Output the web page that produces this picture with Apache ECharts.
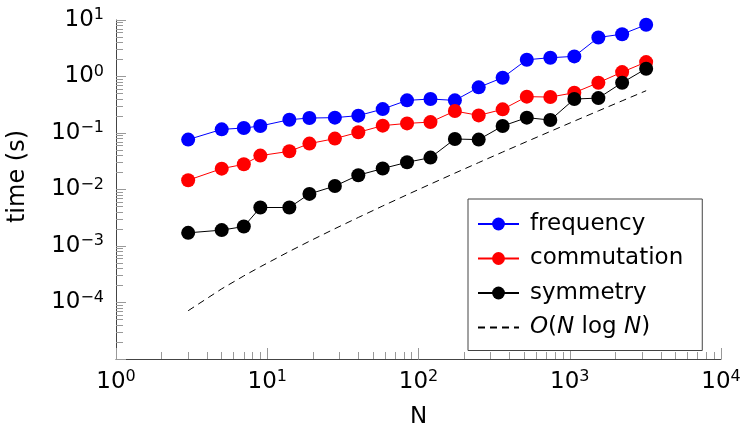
<!DOCTYPE html>
<html>
<head>
<meta charset="utf-8">
<script src="https://cdn.jsdelivr.net/npm/echarts@6/dist/echarts.min.js"></script>
<style>
  html, body { margin: 0; padding: 0; background: #fff; }
  #chart { width: 741px; height: 431px; }
</style>
</head>
<body>
<div id="chart"></div>
<script>
// problem sizes
var N = [3, 5, 7, 9, 14, 19, 28, 40, 58, 84, 120, 174, 250, 360, 520, 744, 1072, 1546, 2220, 3200];
// timings in seconds
var frequency = [0.0764, 0.116, 0.1225, 0.133, 0.172, 0.184, 0.187, 0.203, 0.265, 0.378,
                 0.399, 0.378, 0.642, 0.953, 1.98, 2.15, 2.27, 4.91, 5.61, 8.23];
var commutation = [0.0146, 0.0234, 0.0279, 0.0398, 0.0474, 0.0649, 0.0796, 0.1028, 0.135, 0.148,
                   0.156, 0.2445, 0.205, 0.262, 0.440, 0.4325, 0.517, 0.777, 1.196, 1.80];
var symmetry = [0.00171, 0.00191, 0.00221, 0.0048, 0.0048, 0.00835, 0.0115, 0.0179, 0.0235, 0.0303,
                0.0367, 0.0783, 0.0764, 0.1328, 0.187, 0.1696, 0.399, 0.415, 0.777, 1.374];
var nlogn = [7.15e-5, 1.746e-4, 2.956e-4, 4.29e-4, 8.02e-4, 1.214e-3, 2.025e-3, 3.20e-3, 5.11e-3, 8.08e-3,
             0.01247, 0.01948, 0.02995, 0.0460, 0.0706, 0.1067, 0.1623, 0.2463, 0.3712, 0.5605];

var xTicks = [1, 10, 100, 1000, 10000];
var xTickLabels = ['0', '1', '2', '3', '4'];
var yTicks = [1e-5, 1e-4, 1e-3, 1e-2, 1e-1, 1, 10];
var yTickLabels = ['', '−4', '−3', '−2', '−1', '0', '1'];

var FONT = 'DejaVu Sans';

function pairs(ys) {
    return N.map(function (n, i) { return [n, ys[i]]; });
}
function tickLabel(ticks, labels) {
    return function (v) {
        var best = 0;
        for (var i = 1; i < ticks.length; i++) {
            if (Math.abs(Math.log10(ticks[i] / v)) < Math.abs(Math.log10(ticks[best] / v))) best = i;
        }
        if (labels[best] === '') return '';
        return '{b|10}{sup|' + labels[best] + '}';
    };
}
var richLabel = {
    b: {fontFamily: FONT, fontSize: 23, lineHeight: 26, color: '#000'},
    sup: {fontFamily: FONT, fontSize: 16, lineHeight: 16, verticalAlign: 'top', color: '#000'}
};

var chart = echarts.init(document.getElementById('chart'));
var option = {
    animation: false,
    backgroundColor: '#fff',
    textStyle: {fontFamily: FONT},
    grid: {left: 116, right: 20, top: 20, bottom: 72, containLabel: false, outerBoundsMode: 'none'},
    legend: {
        left: 468,
        top: 199,
        orient: 'vertical',
        align: 'left',
        padding: [13, 19, 11, 9],
        itemGap: 10.5,
        itemWidth: 41,
        itemHeight: 16,
        borderColor: '#444',
        borderWidth: 1,
        borderRadius: 0,
        backgroundColor: '#fff',
        formatter: function (name) {
            if (name === 'O(N log N)') return '{i|O}({i|N} log {i|N})';
            return name;
        },
        textStyle: {
            fontFamily: FONT, fontSize: 23, lineHeight: 24, color: '#000', padding: [0, 0, 0, 6],
            rich: {i: {fontFamily: FONT, fontSize: 23, lineHeight: 24, fontStyle: 'italic', color: '#000'}}
        },
        data: ['frequency', 'commutation', 'symmetry',
               {name: 'O(N log N)', itemStyle: {opacity: 0}}]
    },
    xAxis: {
        type: 'log',
        logBase: 10,
        min: 1,
        max: 10000,
        name: 'N',
        nameLocation: 'middle',
        nameGap: 47,
        nameTextStyle: {fontFamily: FONT, fontSize: 23, color: '#000'},
        axisLine: {onZero: false, lineStyle: {color: '#444', width: 1}},
        axisTick: {inside: true, length: 11, lineStyle: {color: '#999'}},
        minorTick: {show: true, splitNumber: 9, length: 7, lineStyle: {color: '#999'}},
        splitLine: {show: false},
        axisLabel: {margin: 10, showMinLabel: true, showMaxLabel: true,
                    formatter: tickLabel(xTicks, xTickLabels), rich: richLabel}
    },
    yAxis: {
        type: 'log',
        logBase: 10,
        min: 1e-5,
        max: 10,
        name: 'time (s)',
        nameLocation: 'middle',
        nameGap: 86,
        nameTextStyle: {fontFamily: FONT, fontSize: 24, color: '#000', padding: [0, 0, 0, 26]},
        axisLine: {onZero: false, lineStyle: {color: '#444', width: 1}},
        axisTick: {inside: true, length: 10, lineStyle: {color: '#999'}},
        minorTick: {show: true, splitNumber: 9, length: 7, lineStyle: {color: '#999'}},
        splitLine: {show: false},
        axisLabel: {margin: 12, showMinLabel: false, showMaxLabel: true,
                    formatter: tickLabel(yTicks, yTickLabels), rich: richLabel}
    },
    series: [
        {
            name: 'frequency', type: 'line', data: pairs(frequency),
            symbol: 'circle', symbolSize: 14,
            lineStyle: {color: '#0000ff', width: 1},
            itemStyle: {color: '#0000ff'}
        },
        {
            name: 'commutation', type: 'line', data: pairs(commutation),
            symbol: 'circle', symbolSize: 14,
            lineStyle: {color: '#ff0000', width: 1},
            itemStyle: {color: '#ff0000'}
        },
        {
            name: 'symmetry', type: 'line', data: pairs(symmetry),
            symbol: 'circle', symbolSize: 14,
            lineStyle: {color: '#000000', width: 1},
            itemStyle: {color: '#000000'}
        },
        {
            name: 'O(N log N)', type: 'line', data: pairs(nlogn),
            symbol: 'none',
            lineStyle: {color: '#000000', width: 1, type: [7, 5]},
            itemStyle: {color: '#000000'}
        }
    ]
};
chart.setOption(option);
</script>
</body>
</html>
